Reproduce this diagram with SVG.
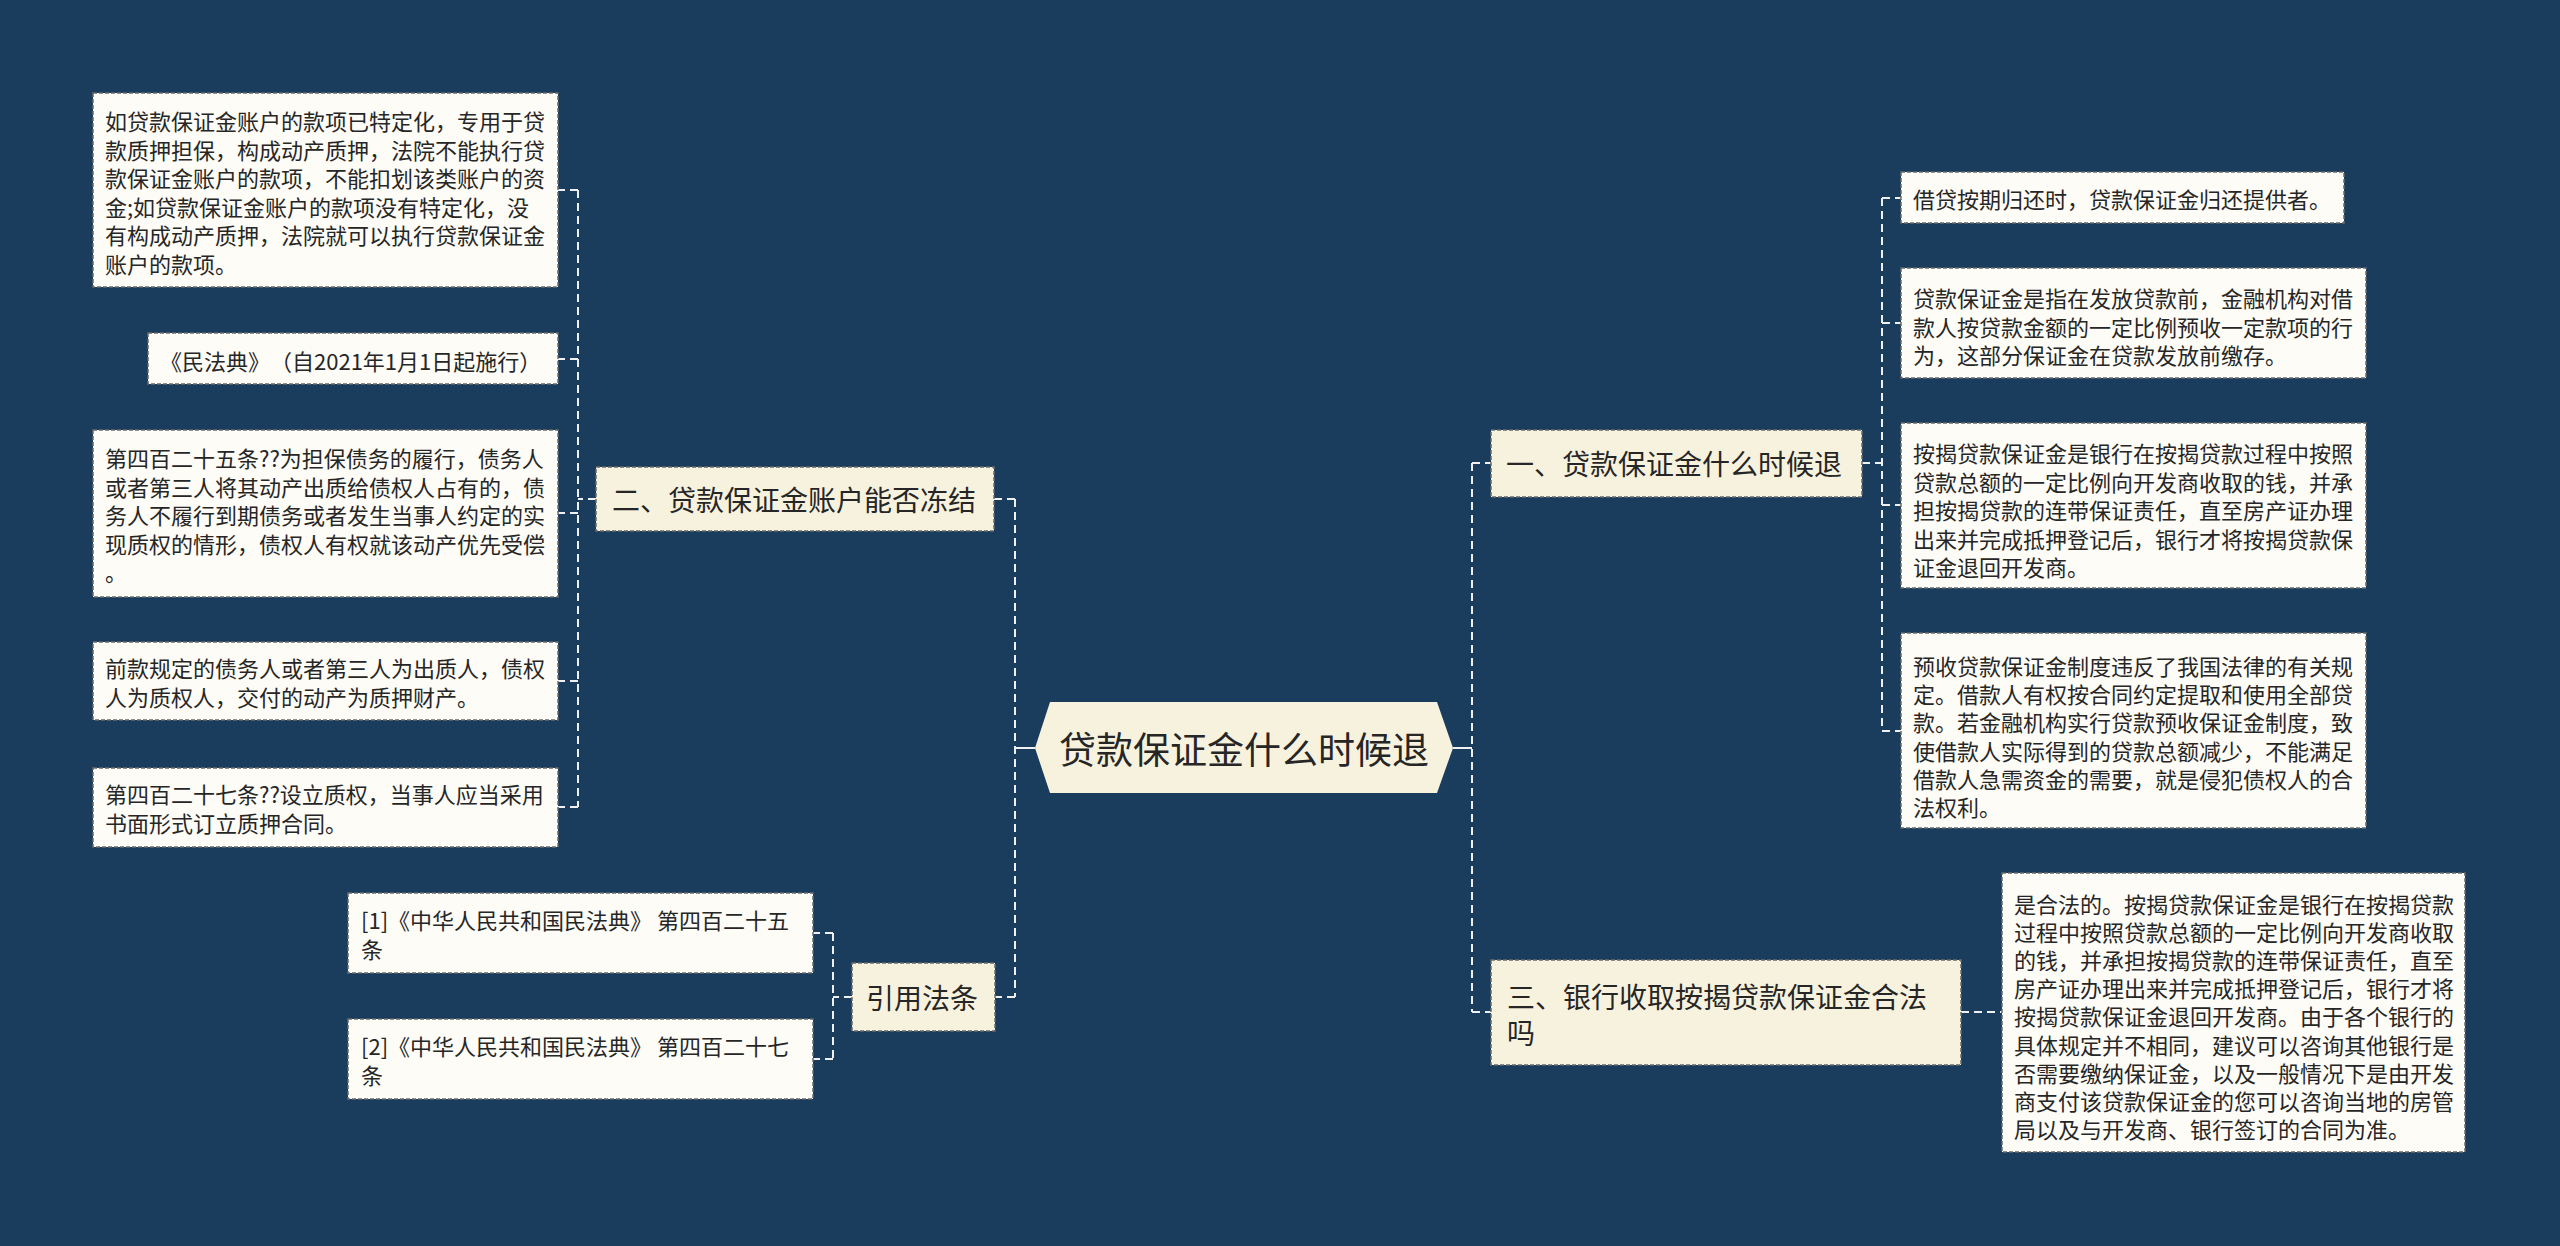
<svg xmlns="http://www.w3.org/2000/svg" width="2560" height="1246" viewBox="0 0 2560 1246">
<style>
text{font-family:"Noto Sans CJK SC","Noto Sans",sans-serif;fill:#262626;dominant-baseline:central;text-spacing-trim:space-all}
.leaf rect{fill:#fdfcf6;stroke:#6a6a6a;stroke-width:1.5;stroke-dasharray:4 2}
.leaf text{font-size:22px}
.l2 rect{fill:#f7f2de;stroke:#6a6a6a;stroke-width:1.5;stroke-dasharray:4 2}
.l2 text{font-size:28px}
.root polygon{fill:#f7f2de}
.root text{font-size:37px;text-anchor:middle}
#connectors path{fill:none;stroke:#eef0f2;stroke-width:2;stroke-dasharray:8 5}
#connectors path.solid{stroke-dasharray:none}
</style>
<rect x="0" y="0" width="2560" height="1246" fill="#1a3d5e"/>
<g id="connectors">
<path class="solid" d="M1035,748 H1015"/>
<path d="M1015,499 V997 M1015,499 H994 M1015,997 H995"/>
<path class="solid" d="M1453,748 H1472"/>
<path d="M1472,463 V1012 M1472,463 H1491 M1472,1012 H1491"/>
<path d="M596,499 H578 M578,190 V807 M578,190 H558 M578,359 H558 M578,513 H558 M578,681 H558 M578,807 H558"/>
<path d="M852,997 H833 M833,933 V1059 M833,933 H813 M833,1059 H813"/>
<path d="M1862,463 H1882 M1882,198 V731 M1882,198 H1901 M1882,323 H1901 M1882,505 H1901 M1882,731 H1901"/>
<path d="M1961,1012 H2002"/>
</g>
<g id="root" class="root">
<polygon points="1035,748 1050,702 1437,702 1453,748 1437,793 1050,793"/>
<text x="1244" y="748">贷款保证金什么时候退</text>
</g>
<g id="n-left2" class="l2">
<rect x="596" y="467" width="398" height="64"/>
<text x="612" y="499">二、贷款保证金账户能否冻结</text>
</g>
<g id="n-cite" class="l2">
<rect x="852" y="963" width="143" height="68"/>
<text x="866" y="997">引用法条</text>
</g>
<g id="n-right1" class="l2">
<rect x="1491" y="430" width="371" height="67"/>
<text x="1506" y="463">一、贷款保证金什么时候退</text>
</g>
<g id="n-right3" class="l2">
<rect x="1491" y="960" width="470" height="105"/>
<text x="1507" y="996">三、银行收取按揭贷款保证金合法</text>
<text x="1507" y="1032">吗</text>
</g>
<g id="leaf-l1" class="leaf">
<rect x="93" y="93" width="465" height="194"/>
<text x="105" y="120">如贷款保证金账户的款项已特定化，专用于贷</text>
<text x="105" y="148.6">款质押担保，构成动产质押，法院不能执行贷</text>
<text x="105" y="177.2">款保证金账户的款项，不能扣划该类账户的资</text>
<text x="105" y="205.8">金;如贷款保证金账户的款项没有特定化，没</text>
<text x="105" y="234.4">有构成动产质押，法院就可以执行贷款保证金</text>
<text x="105" y="263">账户的款项。</text>
</g>
<g id="leaf-l2" class="leaf">
<rect x="148" y="333" width="410" height="51"/>
<text x="160" y="360">《民法典》（自2021年1月1日起施行）</text>
</g>
<g id="leaf-l3" class="leaf">
<rect x="93" y="430" width="465" height="167"/>
<text x="105" y="457">第四百二十五条??为担保债务的履行，债务人</text>
<text x="105" y="485.5">或者第三人将其动产出质给债权人占有的，债</text>
<text x="105" y="514">务人不履行到期债务或者发生当事人约定的实</text>
<text x="105" y="542.5">现质权的情形，债权人有权就该动产优先受偿</text>
<text x="105" y="571">。</text>
</g>
<g id="leaf-l4" class="leaf">
<rect x="93" y="642" width="465" height="78"/>
<text x="105" y="667">前款规定的债务人或者第三人为出质人，债权</text>
<text x="105" y="696">人为质权人，交付的动产为质押财产。</text>
</g>
<g id="leaf-l5" class="leaf">
<rect x="93" y="768" width="465" height="79"/>
<text x="105" y="793">第四百二十七条??设立质权，当事人应当采用</text>
<text x="105" y="822">书面形式订立质押合同。</text>
</g>
<g id="leaf-c1" class="leaf">
<rect x="348" y="893" width="465" height="80"/>
<text x="361" y="919">[1]《中华人民共和国民法典》 第四百二十五</text>
<text x="361" y="948">条</text>
</g>
<g id="leaf-c2" class="leaf">
<rect x="348" y="1019" width="465" height="80"/>
<text x="361" y="1045">[2]《中华人民共和国民法典》 第四百二十七</text>
<text x="361" y="1074">条</text>
</g>
<g id="leaf-r1" class="leaf">
<rect x="1901" y="172" width="443" height="51"/>
<text x="1913" y="198">借贷按期归还时，贷款保证金归还提供者。</text>
</g>
<g id="leaf-r2" class="leaf">
<rect x="1901" y="268" width="465" height="110"/>
<text x="1913" y="297">贷款保证金是指在发放贷款前，金融机构对借</text>
<text x="1913" y="325.5">款人按贷款金额的一定比例预收一定款项的行</text>
<text x="1913" y="354">为，这部分保证金在贷款发放前缴存。</text>
</g>
<g id="leaf-r3" class="leaf">
<rect x="1901" y="423" width="465" height="165"/>
<text x="1913" y="452">按揭贷款保证金是银行在按揭贷款过程中按照</text>
<text x="1913" y="480.5">贷款总额的一定比例向开发商收取的钱，并承</text>
<text x="1913" y="509">担按揭贷款的连带保证责任，直至房产证办理</text>
<text x="1913" y="537.5">出来并完成抵押登记后，银行才将按揭贷款保</text>
<text x="1913" y="566">证金退回开发商。</text>
</g>
<g id="leaf-r4" class="leaf">
<rect x="1901" y="633" width="465" height="195"/>
<text x="1913" y="665">预收贷款保证金制度违反了我国法律的有关规</text>
<text x="1913" y="693.2">定。借款人有权按合同约定提取和使用全部贷</text>
<text x="1913" y="721.4">款。若金融机构实行贷款预收保证金制度，致</text>
<text x="1913" y="749.6">使借款人实际得到的贷款总额减少，不能满足</text>
<text x="1913" y="777.8">借款人急需资金的需要，就是侵犯债权人的合</text>
<text x="1913" y="806">法权利。</text>
</g>
<g id="leaf-r5" class="leaf">
<rect x="2002" y="873" width="463" height="279"/>
<text x="2014" y="903">是合法的。按揭贷款保证金是银行在按揭贷款</text>
<text x="2014" y="931.1">过程中按照贷款总额的一定比例向开发商收取</text>
<text x="2014" y="959.2">的钱，并承担按揭贷款的连带保证责任，直至</text>
<text x="2014" y="987.3">房产证办理出来并完成抵押登记后，银行才将</text>
<text x="2014" y="1015.4">按揭贷款保证金退回开发商。由于各个银行的</text>
<text x="2014" y="1043.5">具体规定并不相同，建议可以咨询其他银行是</text>
<text x="2014" y="1071.6">否需要缴纳保证金，以及一般情况下是由开发</text>
<text x="2014" y="1099.7">商支付该贷款保证金的您可以咨询当地的房管</text>
<text x="2014" y="1127.8">局以及与开发商、银行签订的合同为准。</text>
</g>
</svg>
